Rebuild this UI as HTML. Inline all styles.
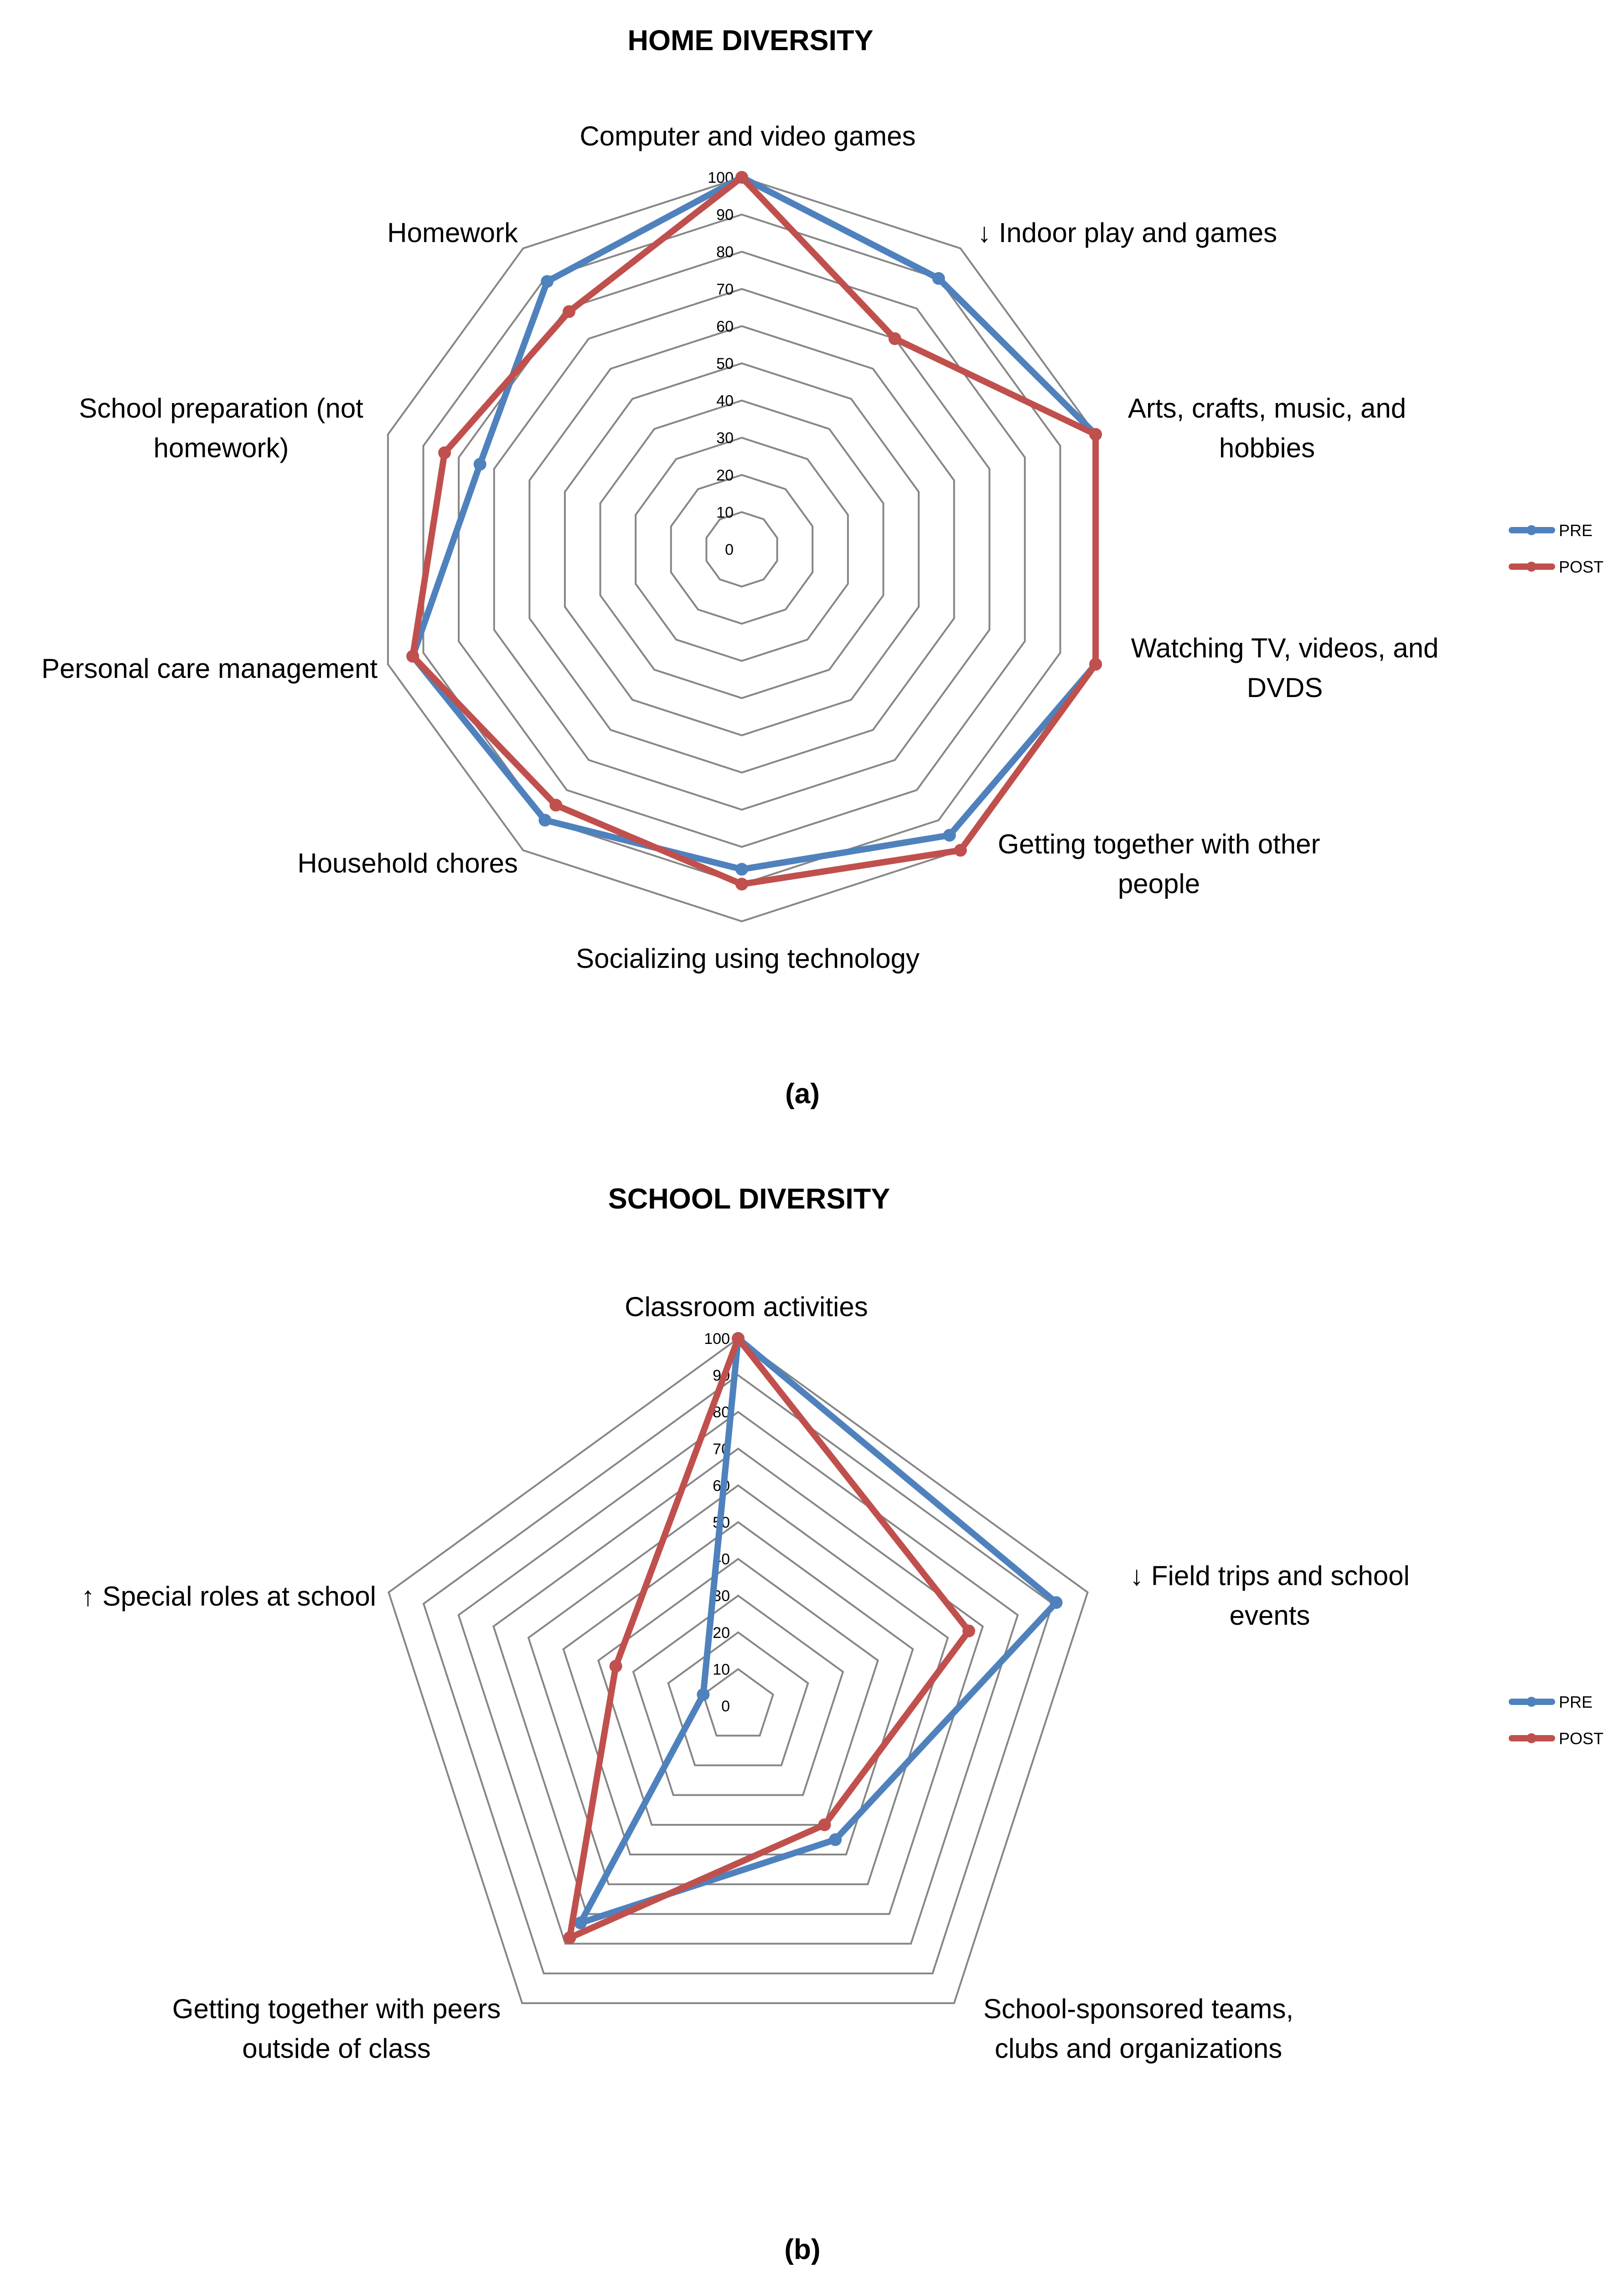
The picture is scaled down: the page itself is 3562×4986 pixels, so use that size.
<!DOCTYPE html>
<html><head><meta charset="utf-8">
<style>
html,body{margin:0;padding:0;background:#fff;}
svg{display:block;}
text{font-family:"Liberation Sans",sans-serif;fill:#000;}
</style></head>
<body>
<svg id="fig" xmlns="http://www.w3.org/2000/svg" width="3562" height="4986" viewBox="0 0 3562 4986">
<rect width="3562" height="4986" fill="#fff"/>
<text x="1646" y="110" text-anchor="middle" font-size="63" font-weight="bold">HOME DIVERSITY</text>
<text x="1760" y="2420" text-anchor="middle" font-size="62" font-weight="bold" font-family="Liberation Serif">(a)</text>
<text x="1643" y="2651" text-anchor="middle" font-size="63" font-weight="bold">SCHOOL DIVERSITY</text>
<text x="1760" y="4955" text-anchor="middle" font-size="62" font-weight="bold" font-family="Liberation Serif">(b)</text>
<g id="chartA"></g>
<g id="chartB"></g>
</svg>
<script>
var homeCategories = ["Computer and video games","↓ Indoor play and games","Arts, crafts, music, and hobbies","Watching TV, videos, and DVDS","Getting together with other people","Socializing using technology","Household chores","Personal care management","School preparation (not homework)","Homework"];
var homePre  = [100, 90, 100, 100, 95, 86, 90, 93, 74, 89];
var homePost = [100, 70, 100, 100, 100, 90, 85, 93, 84, 79];
var schoolCategories = ["Classroom activities","↓ Field trips and school events","School-sponsored teams, clubs and organizations","Getting together with peers outside of class","↑ Special roles at school"];
var schoolPre  = [100, 91, 45, 73, 10];
var schoolPost = [100, 66, 40, 78, 35];
var tickLabels = ["0","10","20","30","40","50","60","70","80","90","100"];
var seriesNames = ["PRE","POST"];

var NS = "http://www.w3.org/2000/svg";
function mk(tag, attrs, parent){
  var e = document.createElementNS(NS, tag);
  for (var k in attrs) e.setAttribute(k, attrs[k]);
  parent.appendChild(e); return e;
}
function drawRadar(g, cfg, cats, pre, post){
  var n = cats.length;
  function pt(i, v){
    var a = 2*Math.PI*i/n;
    var r = v/100*cfg.r;
    return [cfg.cx + r*Math.sin(a), cfg.cy - r*Math.cos(a)];
  }
  for (var t=1; t<tickLabels.length; t++){
    var v = Number(tickLabels[t]);
    var pts = [];
    for (var i=0;i<n;i++){ pts.push(pt(i,v).join(",")); }
    var ring = mk("polygon",{points:pts.join(" "),fill:"none",stroke:"#868686","stroke-width":4},g);
    
    
  }
  for (var t=0; t<tickLabels.length; t++){
    var p = pt(0, Number(tickLabels[t]));
    var tl = mk("text",{x:p[0]-18,y:p[1]+12,"text-anchor":"end","font-size":34},g);
    tl.textContent = tickLabels[t];
    
    
  }
  var series = [[pre,"#4F81BD"],[post,"#C0504D"]];
  series.forEach(function(s, si){
    var pts = [];
    for (var i=0;i<n;i++) pts.push(pt(i,s[0][i]).join(","));
    var line = mk("polygon",{points:pts.join(" "),fill:"none",stroke:s[1],"stroke-width":14,"stroke-linejoin":"round"},g);
    
    
    for (var i=0;i<n;i++){
      var p = pt(i,s[0][i]);
      var c = mk("circle",{cx:p[0],cy:p[1],r:14,fill:s[1]},g);
      
      
    }
  });
  cfg.labels.forEach(function(L, i){
    var tx = mk("text",{x:L[0],y:L[1],"text-anchor":L[2],"font-size":60},g);
    
    
    L[3].forEach(function(ln, j){
      var ts = mk("tspan",{x:L[0],y:L[1]+j*87+8},tx);
      ts.textContent = ln;
    });
  });
  [0,1].forEach(function(si){
    var y = cfg.legY[si];
    var col = series[si][1];
    var l = mk("line",{x1:3316,y1:y,x2:3404,y2:y,stroke:col,"stroke-width":14,"stroke-linecap":"round"},g);
    
    
    var c = mk("circle",{cx:3359,cy:y,r:11,fill:col},g);
    
    
    var t = mk("text",{x:3419,y:y+13,"font-size":36},g);
    t.textContent = seriesNames[si];
    
    
  });
}
drawRadar(document.getElementById("chartA"),
  {cx:1627, cy:1205, r:816, legY:[1163,1243], labels:[
    [1640,311,"middle",[homeCategories[0]]],
    [2144,523,"start",[homeCategories[1]]],
    [2779,908,"middle",["Arts, crafts, music, and","hobbies"]],
    [2818,1434,"middle",["Watching TV, videos, and","DVDS"]],
    [2542,1864,"middle",["Getting together with other","people"]],
    [1640,2115,"middle",[homeCategories[5]]],
    [1136,1906,"end",[homeCategories[6]]],
    [828,1479,"end",[homeCategories[7]]],
    [485,908,"middle",["School preparation (not","homework)"]],
    [1136,523,"end",[homeCategories[9]]]
  ]}, homeCategories, homePre, homePost);
drawRadar(document.getElementById("chartB"),
  {cx:1619, cy:3742, r:806, legY:[3733,3813], labels:[
    [1637,2879,"middle",[schoolCategories[0]]],
    [2785,3469,"middle",["↓ Field trips and school","events"]],
    [2497,4419,"middle",["School-sponsored teams,","clubs and organizations"]],
    [738,4419,"middle",["Getting together with peers","outside of class"]],
    [825,3514,"end",[schoolCategories[4]]]
  ]}, schoolCategories, schoolPre, schoolPost);
</script>
</body></html>
